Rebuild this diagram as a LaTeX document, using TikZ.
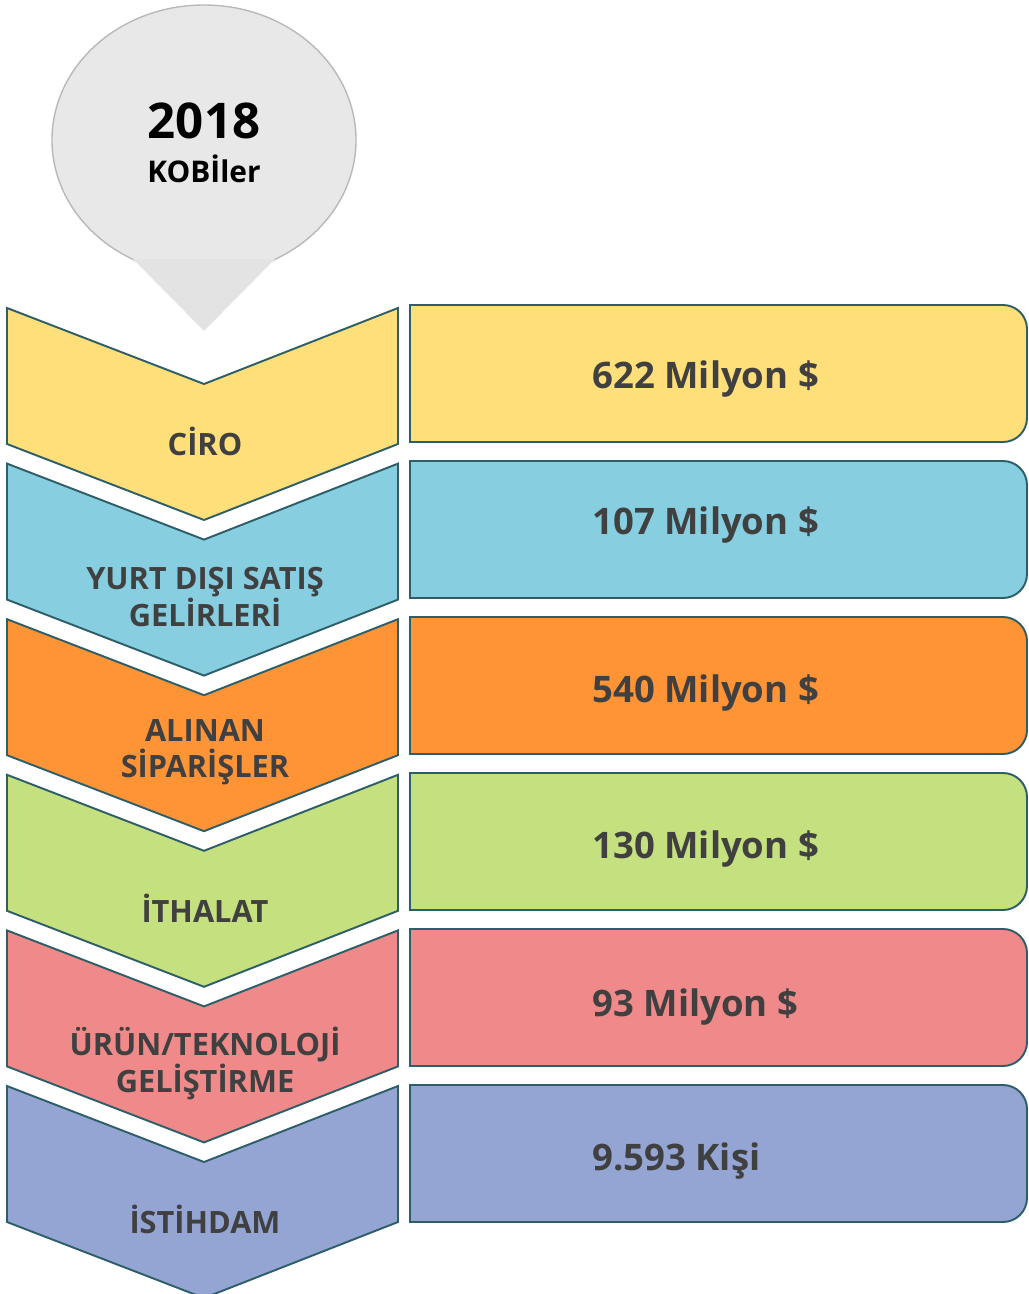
\documentclass[tikz,border=0pt]{standalone}
\usepackage{fontspec}
\setmainfont{Open Sans}
\definecolor{edgeteal}{HTML}{2E5E68}
\definecolor{txtgray}{HTML}{404040}
\definecolor{bubblefill}{HTML}{E8E8E8}
\definecolor{cyellow}{HTML}{FFDF7A}
\definecolor{cblue}{HTML}{86CEE0}
\definecolor{corange}{HTML}{FF9437}
\definecolor{cgreen}{HTML}{C5E07E}
\definecolor{cred}{HTML}{F08A8A}
\definecolor{cpurple}{HTML}{94A5D3}

\begin{document}
\begin{tikzpicture}[x=0.02cm,y=-0.02cm,
    chevron/.style={draw=edgeteal,line width=1.1pt,line join=miter},
    valbox/.style={draw=edgeteal,line width=1.1pt},
    lab/.style={align=center,text=txtgray,font=\fontsize{17.5}{21}\selectfont\bfseries},
    val/.style={anchor=base west,inner sep=0pt,text=txtgray,font=\fontsize{20.8}{25}\selectfont\bfseries}]
    \useasboundingbox (0,0) rectangle (1028,1294);

    % speech bubble on top
    \draw[draw=gray!55,fill=bubblefill,line width=0.8pt] (204,140) ellipse [x radius=152, y radius=135];
    \fill[bubblefill!95!gray] (133,259) -- (275,259) -- (204,331) -- cycle;
    \node[anchor=base,font=\fontsize{28}{30}\selectfont\bfseries] (year) at (204,139) {2018};
    \node[anchor=base,font=\fontsize{17}{19}\selectfont\bfseries] (kobi) at (204,183) {KOBİler};

    % chevrons and value boxes
    \foreach \i/\col/\val/\vy in {
        0/cyellow/{622 Milyon \$}/388,
        1/cblue/{107 Milyon \$}/534,
        2/corange/{540 Milyon \$}/702,
        3/cgreen/{130 Milyon \$}/858,
        4/cred/{93 Milyon \$}/1016,
        5/cpurple/{9.593 Kişi}/1170} {
        \pgfmathsetmacro{\top}{308+155.6*\i}
        \pgfmathsetmacro{\btop}{305+156*\i}
        \draw[chevron,fill=\col] (7,\top) -- (204,\top+76) -- (398,\top)
            -- (398,\top+136) -- (204,\top+212) -- (7,\top+136) -- cycle;
        \draw[valbox,fill=\col] (410,\btop) -- (1003,\btop)
            arc[start angle=90,end angle=0,x radius=24,y radius=-24]
            -- (1027,\btop+113)
            arc[start angle=0,end angle=-90,x radius=24,y radius=-24]
            -- (410,\btop+137) -- cycle;
        \node[val] (val\i) at (592,\vy) {\val};
    }

    % labels last, so they stay on top
    \foreach \i/\lab in {0/{CİRO},1/{YURT DIŞI SATIŞ\\GELİRLERİ},2/{ALINAN\\SİPARİŞLER},
        3/{İTHALAT},4/{ÜRÜN/TEKNOLOJİ\\GELİŞTİRME},5/{İSTİHDAM}} {
        \pgfmathsetmacro{\top}{308+155.6*\i}
        \node[lab] (lab\i) at (205,\top+133) {\lab};
    }
\end{tikzpicture}
\end{document}
